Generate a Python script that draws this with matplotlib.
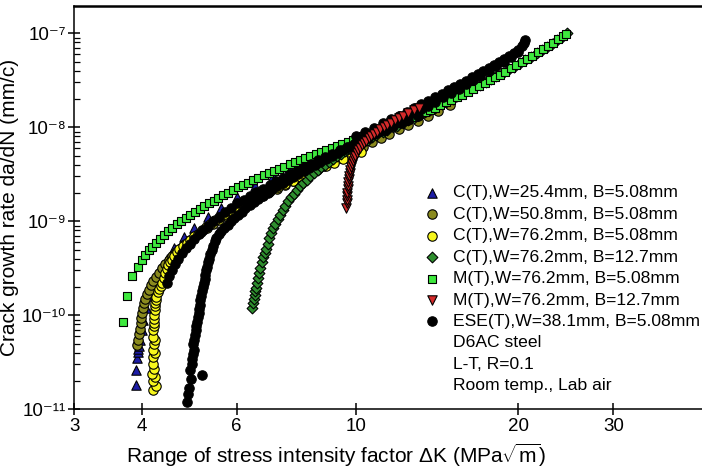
import matplotlib
matplotlib.use("Agg")
import matplotlib.pyplot as plt
from matplotlib.ticker import FixedLocator, NullLocator, LogLocator, NullFormatter

# ---- data (dK in MPa*sqrt(m), da/dN in mm/cycle) ----
ct254_dk = [3.91, 3.90, 3.92, 3.93, 3.94, 3.95, 3.97, 4.00, 4.03, 4.07, 4.12, 4.20, 4.30,
            4.45, 4.60, 4.80, 5.00, 5.30, 5.60, 6.00, 6.50, 7.00, 7.50, 8.00, 8.60, 9.20]
ct254_rate = [1.8e-11, 2.6e-11, 3.5e-11, 4.1e-11, 4.4e-11, 4.7e-11, 5.5e-11, 7.0e-11, 9.0e-11,
              1.2e-10, 1.6e-10, 2.2e-10, 3.0e-10, 4.0e-10, 5.2e-10, 6.8e-10, 8.5e-10, 1.1e-9,
              1.4e-9, 1.8e-9, 2.4e-9, 3.0e-9, 3.7e-9, 4.4e-9, 5.2e-9, 6.2e-9]

ct508_dk = [3.92, 3.94, 3.95, 3.97, 3.98, 3.99, 4.01, 4.02, 4.04, 4.06, 4.09, 4.12, 4.16, 4.20,
            4.25, 4.30, 4.36, 4.42, 4.49, 4.56, 4.64, 4.73, 4.82, 4.92, 5.03, 5.15, 5.28, 5.42,
            5.57, 5.73, 5.90, 6.08, 6.27, 6.47, 6.68, 6.90, 7.13, 7.37, 7.62, 7.88, 8.15, 8.43,
            8.72, 9.02, 9.33, 9.65, 9.98, 10.3, 10.7, 11.1, 11.5, 12.0, 12.5, 13.0, 13.6, 14.2,
            14.9]
ct508_rate = [4.8e-11, 5.5e-11, 6.3e-11, 7.2e-11, 8.2e-11, 9.3e-11, 1.05e-10, 1.2e-10, 1.35e-10,
              1.5e-10, 1.68e-10, 1.87e-10, 2.08e-10, 2.3e-10, 2.55e-10, 2.85e-10, 3.15e-10,
              3.5e-10, 3.85e-10, 4.25e-10, 4.7e-10, 5.2e-10, 5.7e-10, 6.3e-10, 6.9e-10, 7.6e-10,
              8.4e-10, 9.3e-10, 1.03e-9, 1.14e-9, 1.26e-9, 1.39e-9, 1.53e-9, 1.68e-9, 1.85e-9,
              2.03e-9, 2.23e-9, 2.45e-9, 2.69e-9, 2.95e-9, 3.24e-9, 3.55e-9, 3.9e-9, 4.28e-9,
              4.7e-9, 5.15e-9, 5.65e-9, 6.2e-9, 6.9e-9, 7.7e-9, 8.5e-9, 9.5e-9, 1.06e-8,
              1.18e-8, 1.33e-8, 1.5e-8, 1.72e-8]

ct762_dk = [4.19, 4.25, 4.20, 4.24, 4.18, 4.22, 4.20, 4.19, 4.23, 4.19, 4.21, 4.23, 4.19, 4.20,
            4.22, 4.21, 4.22, 4.22, 4.23, 4.24, 4.24, 4.25, 4.25, 4.28, 4.30, 4.34, 4.37, 4.40,
            4.42, 4.45, 4.48, 4.52, 4.55, 4.60, 4.65, 4.70, 4.77, 4.85, 4.92, 5.00, 5.08, 5.17,
            5.26, 5.36, 5.47, 5.59, 5.72, 5.86, 6.01, 6.17, 6.34, 6.52, 6.72, 6.93, 7.15, 7.39,
            7.64, 7.90, 8.18, 8.47, 8.78, 9.10, 9.44, 9.80, 10.2]
ct762_rate = [1.6e-11, 1.75e-11, 2.0e-11, 2.2e-11, 2.4e-11, 2.7e-11, 3.0e-11, 3.6e-11, 4.0e-11,
              4.3e-11, 5.0e-11, 5.4e-11, 5.9e-11, 7.0e-11, 7.6e-11, 8.3e-11, 9.2e-11, 1.0e-10,
              1.14e-10, 1.25e-10, 1.35e-10, 1.46e-10, 1.57e-10, 1.75e-10, 1.9e-10, 2.05e-10,
              2.2e-10, 2.5e-10, 2.8e-10, 3.1e-10, 3.4e-10, 3.65e-10, 3.9e-10, 4.3e-10, 4.7e-10,
              5.1e-10, 5.5e-10, 5.9e-10, 6.4e-10, 6.9e-10, 7.4e-10, 8.0e-10, 8.7e-10, 9.4e-10,
              1.02e-9, 1.1e-9, 1.19e-9, 1.29e-9, 1.4e-9, 1.52e-9, 1.65e-9, 1.79e-9, 1.94e-9,
              2.11e-9, 2.29e-9, 2.49e-9, 2.71e-9, 2.95e-9, 3.22e-9, 3.51e-9, 3.83e-9, 4.18e-9,
              4.57e-9, 5.0e-9, 5.5e-9]

ct762b_dk = [6.42, 6.44, 6.46, 6.48, 6.50, 6.52, 6.55, 6.58, 6.61, 6.64, 6.68, 6.72, 6.76, 6.80,
             6.85, 6.90, 6.96, 7.02, 7.08, 7.15, 7.22, 7.30, 7.38, 7.47, 7.56, 7.66, 7.76, 7.87,
             7.98, 8.10, 8.22, 8.35, 8.48, 8.62, 8.76, 8.91, 9.06, 9.22, 9.38, 9.55, 9.72, 9.90,
             10.1, 10.3, 10.5, 10.7, 10.9, 11.2, 11.4, 11.7, 11.9, 12.2, 12.5, 12.8, 13.1, 13.4,
             13.7, 14.0, 14.4, 14.7, 15.1, 15.4, 15.8, 16.2, 16.6, 17.0, 17.4, 17.8, 18.2, 18.7,
             19.1, 19.6, 20.1, 20.6, 21.1, 21.6, 22.1, 22.6, 23.1, 23.6, 24.1, 24.6]
ct762b_rate = [1.2e-10, 1.35e-10, 1.5e-10, 1.65e-10, 1.8e-10, 1.95e-10, 2.2e-10, 2.5e-10,
               2.85e-10, 3.2e-10, 3.65e-10, 4.15e-10, 4.6e-10, 5.1e-10, 5.8e-10, 6.6e-10,
               7.5e-10, 8.4e-10, 9.3e-10, 1.05e-9, 1.18e-9, 1.32e-9, 1.46e-9, 1.63e-9, 1.8e-9,
               1.97e-9, 2.15e-9, 2.35e-9, 2.56e-9, 2.78e-9, 3.0e-9, 3.25e-9, 3.5e-9, 3.75e-9,
               4.0e-9, 4.3e-9, 4.6e-9, 4.9e-9, 5.2e-9, 5.6e-9, 5.9e-9, 6.3e-9, 6.7e-9, 7.0e-9,
               7.4e-9, 7.8e-9, 8.2e-9, 8.9e-9, 9.3e-9, 1.0e-8, 1.04e-8, 1.12e-8, 1.19e-8,
               1.27e-8, 1.35e-8, 1.44e-8, 1.53e-8, 1.62e-8, 1.76e-8, 1.87e-8, 2.02e-8, 2.14e-8,
               2.3e-8, 2.47e-8, 2.65e-8, 2.85e-8, 3.05e-8, 3.27e-8, 3.5e-8, 3.8e-8, 4.05e-8,
               4.4e-8, 4.8e-8, 5.2e-8, 5.65e-8, 6.1e-8, 6.6e-8, 7.15e-8, 7.75e-8, 8.4e-8,
               9.1e-8, 1.0e-7]

mt508_dk = [3.69, 3.76, 3.83, 3.93, 4.00, 4.06, 4.12, 4.18, 4.25, 4.32, 4.40, 4.48, 4.56, 4.65,
            4.74, 4.83, 4.92, 5.02, 5.12, 5.22, 5.33, 5.44, 5.55, 5.67, 5.79, 5.91, 6.04, 6.17,
            6.30, 6.44, 6.58, 6.73, 6.88, 7.03, 7.19, 7.35, 7.52, 7.69, 7.86, 8.04, 8.22, 8.41,
            8.60, 8.80, 9.00, 9.21, 9.42, 9.64, 9.86, 10.1, 10.3, 10.6, 10.8, 11.1, 11.3, 11.6,
            11.9, 12.2, 12.5, 12.8, 13.1, 13.4, 13.7, 14.0, 14.3, 14.7, 15.0, 15.4, 15.7, 16.1,
            16.5, 16.9, 17.3, 17.7, 18.1, 18.5, 18.9, 19.4, 19.8, 20.3, 20.7, 21.2, 21.7, 22.2,
            22.7, 23.2, 23.7, 24.2, 24.5]
mt508_rate = [8.5e-11, 1.6e-10, 2.6e-10, 3.3e-10, 3.9e-10, 4.4e-10, 4.9e-10, 5.3e-10, 5.9e-10,
              6.5e-10, 7.2e-10, 7.8e-10, 8.5e-10, 9.3e-10, 1.01e-9, 1.09e-9, 1.17e-9, 1.26e-9,
              1.35e-9, 1.44e-9, 1.55e-9, 1.66e-9, 1.77e-9, 1.89e-9, 2.02e-9, 2.15e-9, 2.29e-9,
              2.43e-9, 2.58e-9, 2.74e-9, 2.9e-9, 3.07e-9, 3.25e-9, 3.43e-9, 3.62e-9, 3.82e-9,
              4.03e-9, 4.25e-9, 4.47e-9, 4.7e-9, 4.94e-9, 5.2e-9, 5.46e-9, 5.74e-9, 6.03e-9,
              6.33e-9, 6.65e-9, 6.98e-9, 7.32e-9, 7.7e-9, 8.0e-9, 8.5e-9, 8.85e-9, 9.4e-9,
              9.8e-9, 1.04e-8, 1.1e-8, 1.16e-8, 1.23e-8, 1.3e-8, 1.37e-8, 1.45e-8, 1.53e-8,
              1.62e-8, 1.71e-8, 1.84e-8, 1.94e-8, 2.09e-8, 2.21e-8, 2.38e-8, 2.56e-8, 2.75e-8,
              2.95e-8, 3.17e-8, 3.4e-8, 3.64e-8, 3.9e-8, 4.25e-8, 4.55e-8, 4.95e-8, 5.3e-8,
              5.75e-8, 6.25e-8, 6.8e-8, 7.35e-8, 7.95e-8, 8.6e-8, 9.3e-8, 9.8e-8]

mt127_dk = [9.58, 9.60, 9.61, 9.62, 9.63, 9.64, 9.65, 9.66, 9.68, 9.70, 9.72, 9.75, 9.78, 9.82,
            9.86, 9.91, 9.96, 10.02, 10.09, 10.17, 10.25, 10.34, 10.44, 10.55, 10.67, 10.80,
            10.94, 11.09, 11.25, 11.42, 11.60, 11.80, 12.0, 12.2, 12.5, 12.8, 13.1]
mt127_rate = [1.4e-9, 1.55e-9, 1.7e-9, 1.85e-9, 2.0e-9, 2.2e-9, 2.4e-9, 2.6e-9, 2.8e-9,
              3.05e-9, 3.3e-9, 3.55e-9, 3.8e-9, 4.1e-9, 4.4e-9, 4.7e-9, 5.0e-9, 5.35e-9,
              5.7e-9, 6.05e-9, 6.4e-9, 6.8e-9, 7.2e-9, 7.6e-9, 8.05e-9, 8.5e-9, 9.0e-9, 9.5e-9,
              1.0e-8, 1.06e-8, 1.12e-8, 1.19e-8, 1.26e-8, 1.33e-8, 1.42e-8, 1.52e-8, 1.62e-8]

# ESE(T): several overlapping runs, listed one after another
ese_dk = [4.86, 4.88, 4.90, 5.18, 4.93, 4.92, 4.95, 4.95, 4.97, 5.00, 4.98, 4.99, 5.02, 5.05,
          5.04, 5.06, 5.08, 5.10, 5.11, 5.12, 5.14, 5.15, 5.17, 5.20, 5.21, 5.23, 5.25, 5.27,
          5.29, 5.31, 5.33, 5.36, 5.39, 5.42, 5.46, 5.50, 5.56, 5.62, 5.69, 5.77, 5.85, 5.94,
          6.03, 6.13, 6.23, 6.34, 6.46, 6.58, 6.71, 6.85, 6.99, 7.14, 7.30, 7.46, 7.63, 7.81,
          7.99, 8.18, 8.38, 8.58, 8.79, 9.01, 9.24, 9.47, 9.71, 9.96, 10.2, 10.5, 10.8, 11.1,
          11.4, 11.7, 12.0, 12.4, 12.8, 13.2, 13.6, 14.0, 14.5, 15.0, 15.5, 16.0, 16.5, 17.0,
          17.6, 18.2, 18.8, 19.4, 20.0,
          4.45, 4.50, 4.56, 4.62, 4.68, 4.75, 4.83, 4.91, 5.00, 5.10, 5.20, 5.31, 5.43, 5.57,
          5.71, 5.86, 6.02, 6.18, 6.35, 6.53, 6.72, 6.91, 7.11, 7.32, 7.54, 7.77, 8.00, 8.25,
          8.50, 8.76, 9.03, 9.31, 9.60, 9.90, 10.2, 10.5, 10.9, 11.3, 11.7, 12.1, 12.5, 13.0,
          10.0, 10.4, 10.8, 11.2, 11.6, 12.0, 12.4, 12.8, 13.2, 13.6, 14.0, 14.4, 14.8, 15.2,
          15.6, 16.0, 16.4, 16.8, 17.2, 17.6, 18.0, 18.4, 18.8, 19.2, 19.6, 20.0, 20.3, 20.5,
          20.6]
ese_rate = [1.2e-11, 1.45e-11, 1.7e-11, 2.3e-11, 2.1e-11, 2.6e-11, 3.0e-11, 3.4e-11, 3.9e-11,
            4.3e-11, 4.9e-11, 5.5e-11, 6.2e-11, 6.9e-11, 7.7e-11, 8.5e-11, 9.5e-11, 1.06e-10,
            1.18e-10, 1.3e-10, 1.45e-10, 1.6e-10, 1.8e-10, 2.0e-10, 2.2e-10, 2.45e-10, 2.7e-10,
            3.0e-10, 3.3e-10, 3.65e-10, 4.0e-10, 4.5e-10, 5.0e-10, 5.5e-10, 6.1e-10, 6.7e-10,
            7.3e-10, 7.9e-10, 8.5e-10, 9.2e-10, 1.0e-9, 1.08e-9, 1.17e-9, 1.27e-9, 1.37e-9,
            1.48e-9, 1.6e-9, 1.73e-9, 1.87e-9, 2.02e-9, 2.18e-9, 2.35e-9, 2.54e-9, 2.74e-9,
            2.95e-9, 3.18e-9, 3.42e-9, 3.68e-9, 3.96e-9, 4.26e-9, 4.58e-9, 4.93e-9, 5.3e-9,
            5.7e-9, 6.13e-9, 6.6e-9, 7.1e-9, 7.7e-9, 8.4e-9, 9.1e-9, 9.9e-9, 1.07e-8, 1.16e-8,
            1.28e-8, 1.41e-8, 1.55e-8, 1.7e-8, 1.87e-8, 2.08e-8, 2.32e-8, 2.58e-8, 2.86e-8,
            3.17e-8, 3.5e-8, 3.95e-8, 4.45e-8, 5.0e-8, 5.6e-8, 6.3e-8,
            2.2e-10, 2.6e-10, 3.0e-10, 3.5e-10, 4.0e-10, 4.6e-10, 5.2e-10, 5.8e-10, 6.5e-10,
            7.3e-10, 8.1e-10, 9.0e-10, 1.0e-9, 1.12e-9, 1.25e-9, 1.4e-9, 1.55e-9, 1.7e-9,
            1.86e-9, 2.03e-9, 2.23e-9, 2.45e-9, 2.68e-9, 2.92e-9, 3.15e-9, 3.45e-9, 3.75e-9,
            4.1e-9, 4.45e-9, 4.85e-9, 5.25e-9, 5.7e-9, 6.2e-9, 6.7e-9, 7.3e-9, 7.9e-9, 8.6e-9,
            9.4e-9, 1.02e-8, 1.1e-8, 1.19e-8, 1.32e-8,
            8.0e-9, 8.9e-9, 9.9e-9, 1.1e-8, 1.21e-8, 1.33e-8, 1.46e-8, 1.6e-8, 1.75e-8,
            1.91e-8, 2.08e-8, 2.27e-8, 2.47e-8, 2.68e-8, 2.9e-8, 3.14e-8, 3.4e-8, 3.67e-8,
            3.95e-8, 4.25e-8, 4.58e-8, 4.92e-8, 5.3e-8, 5.7e-8, 6.15e-8, 6.7e-8, 7.3e-8,
            7.9e-8, 8.4e-8]

labels = ["C(T),W=25.4mm, B=5.08mm", "C(T),W=50.8mm, B=5.08mm", "C(T),W=76.2mm, B=5.08mm",
          "C(T),W=76.2mm, B=12.7mm", "M(T),W=76.2mm, B=5.08mm", "M(T),W=76.2mm, B=12.7mm",
          "ESE(T),W=38.1mm, B=5.08mm"]
notes = ["D6AC steel", "L-T, R=0.1", "Room temp., Lab air"]

# (x, y, marker, colour, size, drawing order)
series = [
    (ct254_dk, ct254_rate, "^", "#1c1ca6", 46, 1),
    (ct508_dk, ct508_rate, "o", "#8a8a1e", 46, 2),
    (ct762_dk, ct762_rate, "o", "#f6f61c", 46, 3),
    (ct762b_dk, ct762b_rate, "D", "#2e8e2e", 30, 4),
    (mt508_dk, mt508_rate, "s", "#3ee83e", 40, 5),
    (mt127_dk, mt127_rate, "v", "#d42a2a", 46, 7),
    (ese_dk, ese_rate, "o", "#000000", 46, 6),
]

plt.rcParams["font.family"] = ["Liberation Sans", "DejaVu Sans"]
plt.rcParams["mathtext.fontset"] = "custom"
plt.rcParams["mathtext.rm"] = "Liberation Sans"
plt.rcParams["mathtext.it"] = "Liberation Sans:italic"

fig = plt.figure(figsize=(7.02, 4.68), dpi=100)
ax = fig.add_axes([74.4 / 702, 1 - 409.3 / 468, (702 - 74.4) / 702, (409.3 - 6) / 468])

for dk, rate, mk, col, sz, z in series:
    ax.scatter(dk, rate, marker=mk, s=sz, c=col, edgecolors="black", linewidths=0.8,
               zorder=2 + z)

ax.set_xscale("log")
ax.set_yscale("log")
ax.set_xlim(3, 43.8)
ax.set_ylim(1e-11, 1.95e-7)

ax.xaxis.set_major_locator(FixedLocator([3, 4, 6, 10, 20, 30]))
ax.xaxis.set_minor_locator(NullLocator())
ax.set_xticklabels(["3", "4", "6", "10", "20", "30"])
ax.yaxis.set_major_locator(FixedLocator([1e-11, 1e-10, 1e-9, 1e-8, 1e-7]))
ax.set_yticklabels(["10\u207b\u00b9\u00b9", "10\u207b\u00b9\u2070", "10\u207b\u2079",
                    "10\u207b\u2078", "10\u207b\u2077"])
ax.yaxis.set_minor_locator(LogLocator(base=10, subs=range(2, 10)))
ax.yaxis.set_minor_formatter(NullFormatter())

ax.tick_params(which="major", direction="inout", length=8, width=1.1, labelsize=13.5,
               pad=2)
ax.tick_params(axis="y", which="minor", direction="in", length=4, width=0.9)
for side in ["left", "bottom"]:
    ax.spines[side].set_linewidth(1.1)
ax.spines["top"].set_linewidth(1.8)
ax.spines["right"].set_visible(False)

ax.set_ylabel("Crack growth rate da/dN (mm/c)", fontsize=15)
ax.yaxis.set_label_coords(-0.088, 0.5)
ax.set_xlabel(r"Range of stress intensity factor $\Delta$K (MPa$\sqrt{\mathregular{m}}$)",
              fontsize=15)
ax.xaxis.set_label_coords(0.417, -0.08)

# legend drawn as rows of marker + text
row_y = [(409.3 - (193 + 21.4 * k)) / 403.3 for k in range(10)]
for k, (lab, (dk, rate, mk, col, sz, z)) in enumerate(zip(labels, series)):
    ax.scatter([0.570], [row_y[k]], marker=mk, s=sz, c=col, edgecolors="black",
               linewidths=0.8, transform=ax.transAxes, zorder=20, clip_on=False)
    ax.text(0.603, row_y[k], lab, fontsize=12.6, va="center", ha="left",
            transform=ax.transAxes)
for k, note in enumerate(notes):
    ax.text(0.603, row_y[7 + k], note, fontsize=12.6, va="center", ha="left",
            transform=ax.transAxes)

fig.savefig("out.png", dpi=100)
